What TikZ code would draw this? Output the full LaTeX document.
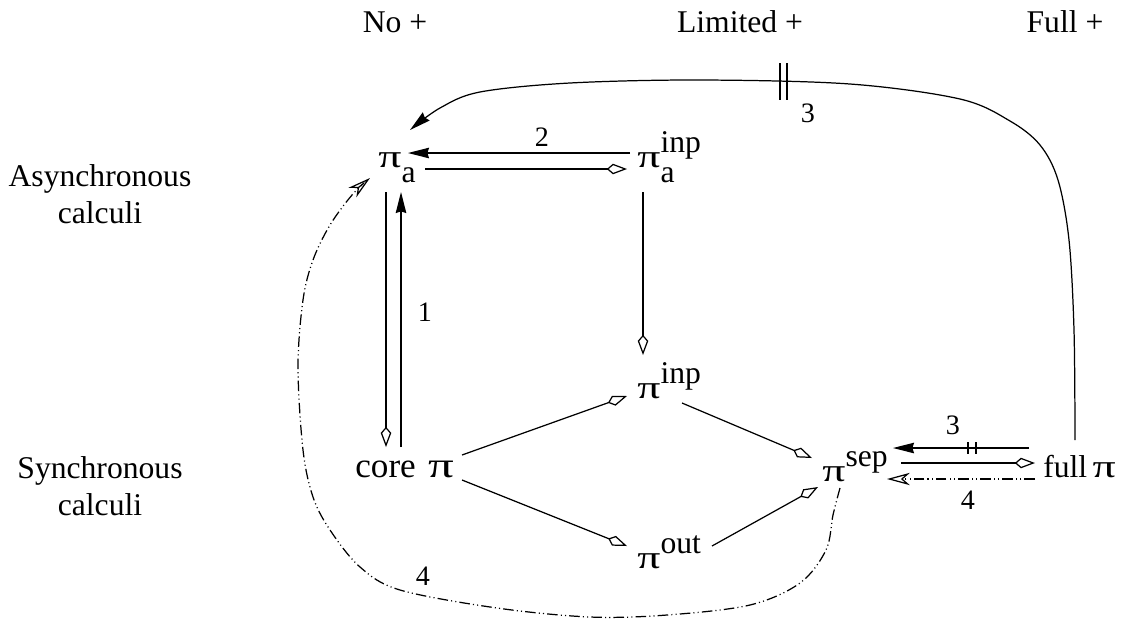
\documentclass[tikz,border=0pt]{standalone}
\usepackage{fontspec}
\usepackage{graphicx}
\setmainfont{Liberation Serif}
\usetikzlibrary{arrows.meta,calc}
\newcommand\PP{\scalebox{1.45}[1.02]{π}}
\begin{document}
\begin{tikzpicture}[x=0.02cm,y=-0.02cm,
  txt/.style={font=\fontsize{18}{21}\selectfont, align=center, inner sep=0pt},
  mth/.style={font=\fontsize{18}{21}\selectfont, inner sep=0pt, anchor=base west},
  num/.style={font=\fontsize{16}{18}\selectfont, inner sep=0pt},
  con/.style={line width=0.7pt},
  filltip/.style={con,-{Stealth[length=12pt,width=6pt,inset=1pt]}},
  diatip/.style={con,-{Kite[open,length=11.5pt,width=6pt,inset=3.5pt]}},
  opentip/.style={con,-{Stealth[open,length=13pt,width=7pt,inset=4pt]}},
  ddot/.style={dash pattern=on 6pt off 1.8pt on 0.6pt off 1.8pt on 0.6pt off 1.8pt}
]
\useasboundingbox (0,0) rectangle (1133,620);
% headers
\node[txt] (hno) at (395,22) {No +};
\node[txt] (hlim) at (740,22) {Limited +};
\node[txt] (hfull) at (1065,22) {Full +};
\node[txt] (asyn) at (100,194) {Asynchronous\\calculi};
\node[txt] (syn) at (100,486) {Synchronous\\calculi};
% calculi
\node[mth] (pia) at (378,167) {\PP\raisebox{-9pt}{a}};
\node[mth] (piainp) at (637,167) {\PP\rlap{\raisebox{-9pt}{a}}\raisebox{8.5pt}{inp}};
\node[mth] (piinp) at (637,398) {\PP\raisebox{8.5pt}{inp}};
\node[mth,font=\fontsize{20}{22}\selectfont] (core) at (355,477) {core\hspace{7pt}\PP};
\node[mth] (pisep) at (822,481) {\PP\raisebox{8.5pt}{sep}};
\node[mth] (fullpi) at (1043,477) {full\hspace{3pt}\PP};
\node[mth] (piout) at (637,568) {\PP\raisebox{8.5pt}{out}};
% connectors
\draw[filltip] ($(piainp.base west)+(-7,-14)$) -- ($(pia.base west)+(30,-14)$);
\node[num] (l2) at (542,137) {2};
\draw[diatip] ($(pia.base west)+(47,2)$) -- ($(piainp.base west)+(-10,2)$);
\draw[diatip] ($(pia.base west)+(8,25)$) -- ($(core.base west)+(31,-30)$);
\draw[filltip] ($(core.base west)+(46,-30)$) -- ($(pia.base west)+(23,25)$);
\node[num] (l1) at (425,312) {1};
\draw[diatip] ($(piainp.base west)+(6,25)$) -- ($(piinp.base west)+(6,-43)$);
\draw[diatip] ($(core.base west)+(107,-22)$) -- ($(piinp.base west)+(-10,-2)$);
\draw[diatip] ($(core.base west)+(107,3)$) -- ($(piout.base west)+(-10,-22)$);
\draw[diatip] ($(piinp.base west)+(45,5)$) -- ($(pisep.base west)+(-10,-23)$);
\draw[diatip] ($(piout.base west)+(75,-22)$) -- ($(pisep.base west)+(-4,6)$);
\draw[filltip] ($(fullpi.base west)+(-14,-29)$) -- coordinate[pos=0.42] (t1) ($(pisep.base west)+(71,-33)$);
\draw[con] ($(t1)+(-4,-6)$) -- ($(t1)+(-4,6)$) ($(t1)+(4,-6)$) -- ($(t1)+(4,6)$);
\node[num] (l3a) at (953,425) {3};
\draw[diatip] ($(pisep.base west)+(79,-18)$) -- ($(fullpi.base west)+(-8,-14)$);
\draw[opentip,ddot] ($(fullpi.base west)+(-8,2)$) -- ($(pisep.base west)+(65,-2)$);
\node[num] (l4a) at (968,500) {4};
% big curve top
\coordinate (ts) at ($(fullpi.base west)+(32,-37)$);
\coordinate (te) at ($(pia.base west)+(32,-37)$);
\draw[filltip] plot[smooth,tension=0.55] coordinates {(ts) (1074,330) (1069,240) (1058,180) (1040,145) (1010,121) (960,99) (850,84) (700,80) (570,83) (480,92) (440,108) (te)};
\draw[con] (780,63) -- (780,100) (787,63) -- (787,100);
\node[num] (l3b) at (808,113) {3};
% big dash curve
\coordinate (ds) at ($(pisep.base west)+(18,7)$);
\coordinate (de) at ($(pia.base west)+(-8,11)$);
\draw[opentip,ddot] plot[smooth,tension=0.55] coordinates {(ds) (833,515) (826,550) (800,583) (750,605) (667,615) (590,617) (497,608) (400,590) (360,567) (330,530) (313,497) (303,450) (298,367) (303,300) (313,260) (330,225) (352,195) (de)};
\node[num] (l4b) at (423,576) {4};
\end{tikzpicture}
\end{document}
